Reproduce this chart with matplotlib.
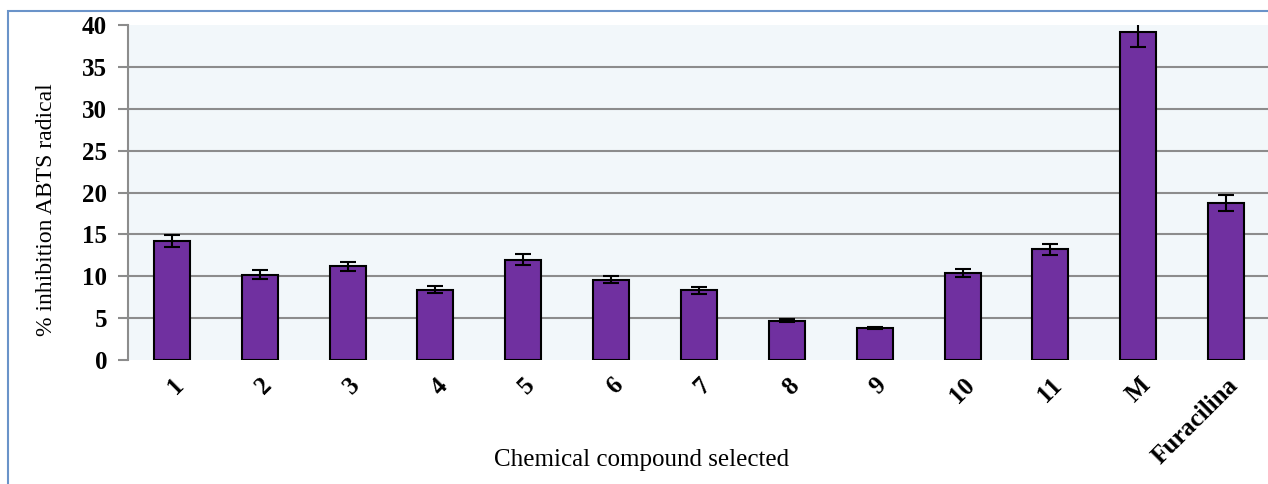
import numpy as np
import matplotlib.pyplot as plt
from matplotlib.patches import Rectangle

labels = ['1', '2', '3', '4', '5', '6', '7', '8', '9', '10', '11', 'M', 'Furacilina']
values = [14.2, 10.2, 11.2, 8.4, 12.0, 9.6, 8.3, 4.7, 3.85, 10.4, 13.2, 39.2, 18.75]
errors = [0.75, 0.5, 0.55, 0.45, 0.6, 0.45, 0.4, 0.2, 0.15, 0.45, 0.65, 1.8, 0.9]

plt.rcParams['font.family'] = ['Liberation Serif', 'DejaVu Serif']

fig = plt.figure(figsize=(12.68, 4.84), dpi=100)
W, H = 1268, 484
ax = fig.add_axes([128 / W, 1 - 360 / H, (1270 - 128) / W, (360 - 25) / H])

# outer frame
fig.patches.append(Rectangle((8 / W, -0.1), 1.2, 1 - 11 / H + 0.1, transform=fig.transFigure,
                             fill=False, edgecolor='#6A93C9', linewidth=1.5))

x = np.arange(len(labels))
ax.set_facecolor('#F2F7FA')
ax.bar(x, values, width=0.41, color='#7030A0', edgecolor='black', linewidth=1.5, zorder=3)
ax.errorbar(x, values, yerr=errors, fmt='none', ecolor='black', elinewidth=1.5,
            capsize=6, capthick=1.5, zorder=4)

ax.set_xlim(-0.5, len(labels) - 0.5)
ax.set_ylim(0, 40)
ax.set_yticks(range(0, 41, 5))
for yv in range(5, 40, 5):
    ax.axhline(yv, color='#8C8C8C', linewidth=1.5, zorder=1)

for s in ['top', 'right', 'bottom']:
    ax.spines[s].set_visible(False)
ax.spines['left'].set_color('#8C8C8C')
ax.spines['left'].set_linewidth(1.5)
ax.tick_params(axis='y', direction='out', length=7, width=1.5, color='#8C8C8C', pad=8)
ax.tick_params(axis='x', length=0, pad=10)

ax.set_xticks(x)
ax.set_xticklabels(labels, rotation=45, ha='right', rotation_mode='anchor', fontsize=18,
                   fontweight='bold')
for t in ax.get_yticklabels():
    t.set_fontsize(18)
    t.set_fontweight('bold')

ax.set_ylabel('% inhibition ABTS radical', fontsize=17)
ax.yaxis.set_label_coords((57 - 128) / (1270 - 128), 0.45)
fig.text(642 / W, 1 - 460 / H, 'Chemical compound selected', fontsize=18,
         ha='center', va='center')

fig.savefig('out.png', dpi=100)
